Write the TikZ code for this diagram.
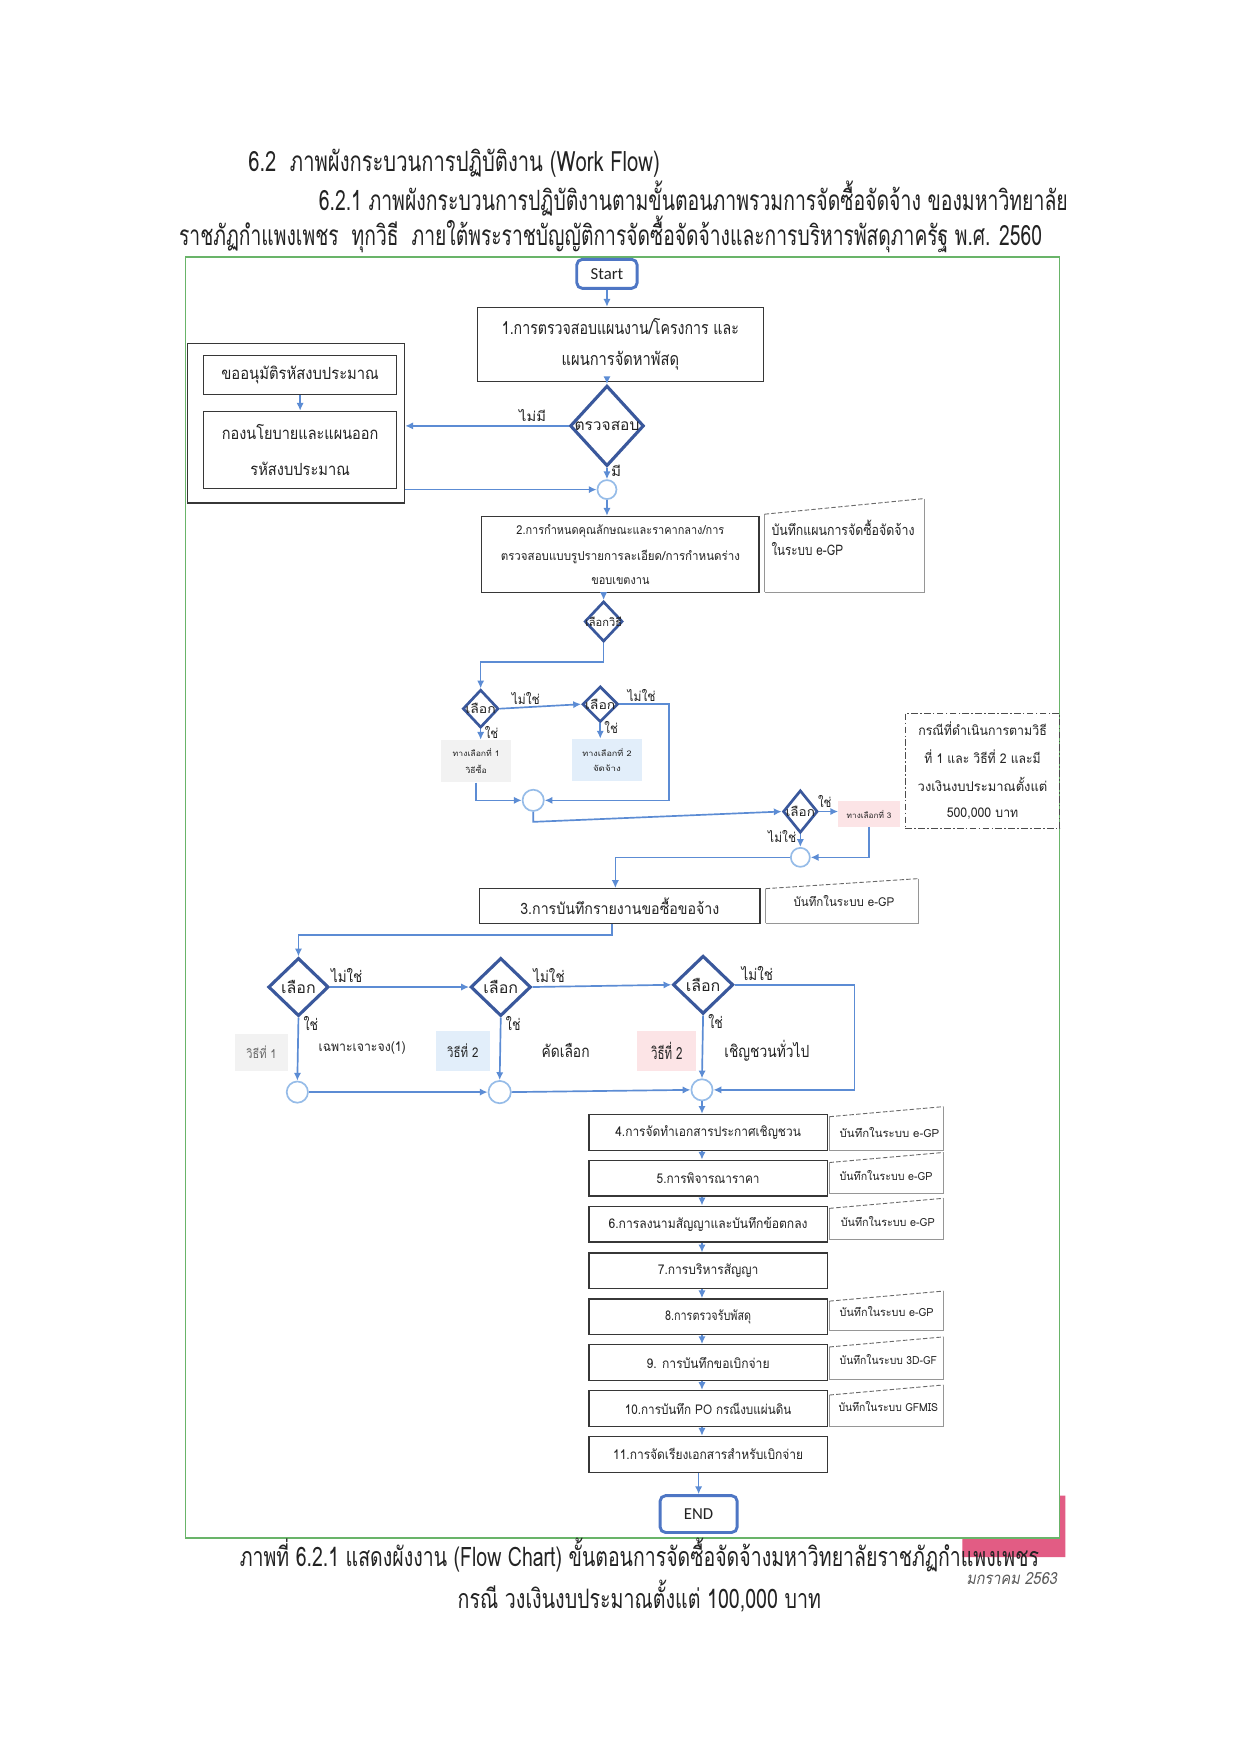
\documentclass[tikz,border=0pt]{standalone}
\usepackage{fontspec}
\usepackage{graphicx}
\setmainfont[Script=Thai]{Loma}
\newfontfamily\thslant[Script=Thai,FakeSlant=0.22]{Loma}
\newfontfamily\calib{Carlito}
\usetikzlibrary{arrows.meta,shapes.geometric,calc}
\newcommand\fitw[2]{\resizebox{#1pt}{\height}{#2}}
\newcommand\fs[1]{\fontsize{#1}{#1}\selectfont}
\definecolor{boxc}{RGB}{55,55,55}
\definecolor{termc}{RGB}{78,118,196}
\definecolor{diac}{RGB}{58,88,156}
\definecolor{circc}{RGB}{150,188,232}
\definecolor{arrc}{RGB}{92,140,212}
\definecolor{framec}{RGB}{105,180,105}
\definecolor{notec}{RGB}{150,150,150}
\definecolor{optgray}{RGB}{242,242,242}
\definecolor{optblue}{RGB}{226,238,250}
\definecolor{optpink}{RGB}{252,228,230}
\definecolor{pinkc}{RGB}{226,92,132}
\definecolor{txtc}{RGB}{35,35,35}
\newcommand\notefr[5]{%
  \draw[notel] (#1,#5) -- (#1,#2);
  \draw[notetop] (#1,#2) -- (#3,#4);
  \draw[notel] (#3,#4) -- (#3,#5) -- (#1,#5);}
\begin{document}
\begin{tikzpicture}[x=1pt,y=-1pt,
  box/.style={draw=boxc, line width=1.1pt, inner sep=0pt, align=center, fill=white, text=txtc},
  term/.style={draw=termc, line width=2.6pt, rounded corners=5pt, inner sep=0pt, fill=white, font=\calib\fs{15}, text=txtc},
  dia/.style={diamond, draw=diac, line width=2.8pt, inner sep=0pt, fill=white},
  sdia/.style={diamond, draw=diac, line width=2.4pt, inner sep=0pt, fill=white},
  circ/.style={circle, draw=circc, line width=1.5pt, inner sep=0pt, fill=white},
  arr/.style={draw=arrc, line width=1.5pt, -{Latex[length=7pt,width=6.5pt]}},
  lbl/.style={inner sep=0pt, font=\fs{12}, text=txtc},
  blbl/.style={inner sep=0pt, font=\fs{14}, text=txtc},
  optbox/.style={inner sep=0pt, align=center, font=\fs{7}, text=txtc},
  notel/.style={draw=notec, line width=0.8pt},
  notetop/.style={draw=notec!70!black, line width=0.8pt, dash pattern=on 4pt off 2pt},
  dashnote/.style={draw=black!70, line width=1pt, dash pattern=on 6pt off 2pt on 1.5pt off 2pt, inner sep=0pt, align=center},
  ttl/.style={inner sep=0pt, font=\fs{25}, text=txtc},
  ntxt/.style={inner sep=0pt, align=left, text=txtc}
]
\useasboundingbox (0,0) rectangle (1106,1562);
\fill[white] (0,0) rectangle (1106,1562);

% titles
\node[ttl, anchor=west] (t1) at (222,146) {\fitw{368}{6.2\ \ ภาพผังกระบวนการปฏิบัติงาน (Work Flow)}};
\node[ttl, anchor=west] (t2) at (285,178) {\fitw{670}{6.2.1 ภาพผังกระบวนการปฏิบัติงานตามขั้นตอนภาพรวมการจัดซื้อจัดจ้าง ของมหาวิทยาลัย}};
\node[ttl, anchor=west] (t3) at (160,210) {\fitw{772}{ราชภัฏกำแพงเพชร\ \ ทุกวิธี\ \ ภายใต้พระราชบัญญัติการจัดซื้อจัดจ้างและการบริหารพัสดุภาครัฐ พ.ศ. 2560}};

% pink mark and frame
\fill[pinkc] (861,1376) -- (948,1376) -- (948,1338) -- (953,1338) -- (953,1393) -- (861,1393) -- cycle;
\draw[framec, line width=1.2pt] (166,230) rectangle (948,1376);

% captions
\node[ttl, font=\fs{24}] (cap1) at (572,1391) {\fitw{715}{ภาพที่ 6.2.1 แสดงผังงาน (Flow Chart) ขั้นตอนการจัดซื้อจัดจ้างมหาวิทยาลัยราชภัฏกำแพงเพชร}};
\node[ttl, font=\fs{24}] (cap2) at (572,1428) {\fitw{325}{กรณี วงเงินงบประมาณตั้งแต่ 100,000 บาท}};
\node[inner sep=0pt, font=\thslant\fs{15}, text=black!65] (date) at (905,1412) {\fitw{81}{มกราคม 2563}};

% top part
\node[term, minimum width=54pt, minimum height=26pt] (start) at (543,245) {Start};
\node[box, minimum width=256pt, minimum height=66pt, font=\fs{16}] (b1) at (555,308)
  {\fitw{212}{1.การตรวจสอบแผนงาน/โครงการ และ}\\[12pt]\fitw{105}{แผนการจัดหาพัสดุ}};
\node[box, minimum width=194pt, minimum height=143pt] (lb) at (265,378.5) {};
\node[box, minimum width=173pt, minimum height=35pt, font=\fs{15}] (la) at (268.5,335.5) {\fitw{141}{ขออนุมัติรหัสงบประมาณ}};
\node[box, minimum width=173pt, minimum height=69pt, font=\fs{15}] (lbb) at (268.5,402.5)
  {\fitw{140}{กองนโยบายและแผนออก}\\[17pt]\fitw{89}{รหัสงบประมาณ}};
\node[dia, minimum width=66pt, minimum height=72pt, label={[lbl, font=\fs{14}]center:\fitw{58}{ตรวจสอบ}}] (d0) at (543,381) {};
\node[circ, minimum size=17pt] (c0) at (543,438) {};
\node[box, minimum width=248pt, minimum height=68pt, font=\fs{11}] (b2) at (555,496)
  {\fitw{186}{2.การกำหนดคุณลักษณะและราคากลาง/การ}\\[10pt]\fitw{214}{ตรวจสอบแบบรูปรายการละเอียด/การกำหนดร่าง}\\[10pt]\fitw{52}{ขอบเขตงาน}};
\notefr{684}{460}{827}{446}{530}
\node[ntxt, anchor=west, font=\fs{13}] (n0) at (690,481) {\fitw{128}{บันทึกแผนการจัดซื้อจัดจ้าง}\\[5pt]\fitw{64}{ในระบบ e-GP}};

% choice of method
\node[sdia, minimum width=34pt, minimum height=36pt, label={[lbl, font=\fs{10}]center:\fitw{33}{เลือกวิธี}}] (d1) at (540,556) {};
\node[sdia, minimum width=32pt, minimum height=34pt, label={[lbl, font=\fs{11}]center:\fitw{27}{เลือก}}] (d2) at (430,634) {};
\node[sdia, minimum width=32pt, minimum height=32pt, label={[lbl, font=\fs{11}]center:\fitw{27}{เลือก}}] (d3) at (537,630) {};
\node[optbox, fill=optgray, minimum width=63pt, minimum height=38pt] (opt1) at (426,681) {\fitw{42}{ทางเลือกที่ 1}\\[7pt]\fitw{19}{วิธีซื้อ}};
\node[optbox, fill=optblue, minimum width=62pt, minimum height=38pt] (opt2) at (543,680) {\fitw{44}{ทางเลือกที่ 2}\\[7pt]\fitw{25}{จัดจ้าง}};
\node[circ, minimum size=19pt] (c1) at (477,716) {};
\node[sdia, minimum width=31pt, minimum height=38pt, label={[lbl, font=\fs{11}]center:\fitw{26}{เลือก}}] (d4) at (716,726) {};
\node[optbox, fill=optpink, minimum width=55pt, minimum height=23pt] (opt3) at (777.5,728.5) {\fitw{40}{ทางเลือกที่ 3}};
\node[dashnote, minimum width=138pt, minimum height=103pt, font=\fs{12}, text=txtc] (n1) at (879,689.5)
  {\fitw{115}{กรณีที่ดำเนินการตามวิธี}\\[11.5pt]\fitw{104}{ที่ 1 และ วิธีที่ 2 และมี}\\[11.5pt]\fitw{116}{วงเงินงบประมาณตั้งแต่}\\[11.5pt]\fitw{64}{500,000 บาท}};
\node[circ, minimum size=17pt] (c2) at (716,767) {};

% step 3
\node[box, minimum width=251pt, minimum height=31pt, font=\fs{14}] (b3) at (554.5,810.5) {\fitw{178}{3.การบันทึกรายงานขอซื้อขอจ้าง}};
\notefr{685}{795}{822}{786}{826}
\node[ntxt, font=\fs{11}] (n2) at (755,806) {\fitw{90}{บันทึกในระบบ e-GP}};

% procurement methods
\node[dia, minimum width=54pt, minimum height=52pt, label={[blbl]center:\fitw{31}{เลือก}}] (d5) at (267,883) {};
\node[dia, minimum width=54pt, minimum height=52pt, label={[blbl]center:\fitw{31}{เลือก}}] (d6) at (448,883) {};
\node[dia, minimum width=54pt, minimum height=52pt, label={[blbl]center:\fitw{31}{เลือก}}] (d7) at (629,881) {};
\node[circ, minimum size=19pt] (c3) at (266,977) {};
\node[circ, minimum size=20pt] (c4) at (447,977) {};
\node[circ, minimum size=19pt] (c5) at (628,975) {};
\node[optbox, fill=optgray, minimum width=48pt, minimum height=33pt, font=\fs{11}, text=black!60] (v1) at (234,941.5) {\fitw{27}{วิธีที่ 1}};
\node[lbl] (m1) at (324,938) {\fitw{78}{เฉพาะเจาะจง(1)}};
\node[optbox, fill=optblue, minimum width=48pt, minimum height=36pt, font=\fs{12}] (v2) at (414,940) {\fitw{28}{วิธีที่ 2}};
\node[lbl, font=\fs{15}] (m2) at (506,940) {\fitw{43}{คัดเลือก}};
\node[optbox, fill=optpink, minimum width=53pt, minimum height=36pt, font=\fs{15}] (v3) at (596.5,940) {\fitw{28}{วิธีที่ 2}};
\node[lbl, font=\fs{15}] (m3) at (686,940) {\fitw{76}{เชิญชวนทั่วไป}};

% steps 4-11
\node[box, minimum width=213pt, minimum height=32pt, font=\fs{12}] (b4) at (633.5,1013) {\fitw{166}{4.การจัดทำเอกสารประกาศเชิญชวน}};
\node[box, minimum width=213pt, minimum height=32pt, font=\fs{12}] (b5) at (633.5,1054) {\fitw{92}{5.การพิจารณาราคา}};
\node[box, minimum width=213pt, minimum height=32pt, font=\fs{12}] (b6) at (633.5,1095) {\fitw{178}{6.การลงนามสัญญาและบันทึกข้อตกลง}};
\node[box, minimum width=213pt, minimum height=32pt, font=\fs{12}] (b7) at (633.5,1137) {\fitw{90}{7.การบริหารสัญญา}};
\node[box, minimum width=213pt, minimum height=32pt, font=\fs{12}] (b8) at (633.5,1178) {\fitw{77}{8.การตรวจรับพัสดุ}};
\node[box, minimum width=213pt, minimum height=32pt, font=\fs{12}] (b9) at (633.5,1219) {\fitw{110}{9. การบันทึกขอเบิกจ่าย}};
\node[box, minimum width=213pt, minimum height=32pt, font=\fs{12}] (b10) at (633.5,1260) {\fitw{149}{10.การบันทึก PO กรณีงบแผ่นดิน}};
\node[box, minimum width=213pt, minimum height=32pt, font=\fs{12}] (b11) at (633.5,1301) {\fitw{170}{11.การจัดเรียงเอกสารสำหรับเบิกจ่าย}};
\node[term, minimum width=69pt, minimum height=33pt] (end) at (625,1354.5) {END};

\notefr{742}{999}{844}{990}{1029}
\node[ntxt, anchor=west, font=\fs{10}] (n4) at (751,1013) {\fitw{89}{บันทึกในระบบ e-GP}};
\notefr{742}{1040}{844}{1031}{1068}
\node[ntxt, anchor=west, font=\fs{10}] (n5) at (751,1052) {\fitw{83}{บันทึกในระบบ e-GP}};
\notefr{742}{1081}{844}{1072}{1109}
\node[ntxt, anchor=west, font=\fs{10}] (n6) at (752,1093) {\fitw{84}{บันทึกในระบบ e-GP}};
\notefr{742}{1164}{844}{1155}{1190}
\node[ntxt, anchor=west, font=\fs{10}] (n8) at (751,1173) {\fitw{84}{บันทึกในระบบ e-GP}};
\notefr{742}{1205}{844}{1196}{1234}
\node[ntxt, anchor=west, font=\fs{10}] (n9) at (751,1216) {\fitw{87}{บันทึกในระบบ 3D-GF}};
\notefr{742}{1248}{844}{1239}{1276}
\node[ntxt, anchor=west, font=\fs{10}] (n10) at (750,1258) {\fitw{89}{บันทึกในระบบ GFMIS}};

% connectors
\draw[arr] (start.south) -- (start.south |- b1.north);
\draw[arr] (b1.south -| d0) -- (d0.north);
\draw[arr] (d0.west) -- node[lbl, above=3pt, pos=0.22] (lnm) {\fitw{24}{ไม่มี}} (d0.west -| lb.east);
\draw[arr] (d0.south) -- node[lbl, right=3pt, pos=0.25] (lm) {\fitw{9}{มี}} (c0.north);
\draw[arr] (la.south) -- (lbb.north);
\draw[arr] (c0 -| lb.east) -- (c0.west);
\draw[arr] (c0.south) -- (c0.south |- b2.north);
\draw[arr] (b2.south -| d1) -- (d1.north);
\draw[arr] (d1.south) -- ++(0,17) -| (d2.north);
\draw[arr] (d2.east) -- node[lbl, above=2pt, pos=0.32] (l1) {\fitw{25}{ไม่ใช่}} (d3.west);
\draw[arr] (d3.east) -- node[lbl, above=2pt, pos=0.45] (l2) {\fitw{25}{ไม่ใช่}} ++(44,0) |- (c1.east);
\draw[arr] (d2.south) -- node[lbl, right=3pt, pos=0.3] (l3) {\fitw{12}{ใช่}} (d2.south |- opt1.north);
\draw[arr] (d3.south) -- node[lbl, right=3pt, pos=0.3] (l4) {\fitw{12}{ใช่}} (d3.south |- opt2.north);
\draw[arr] (opt1.south) |- (c1.west);
\draw[arr] (c1.south) -- ++(0,9) -- (d4.west);
\draw[arr] (d4.east) -- node[lbl, above=3pt, pos=0.3] (l5) {\fitw{12}{ใช่}} (d4.east -| opt3.west);
\draw[arr] (d4.south) -- node[lbl, left=3pt, pos=0.2] (l6) {\fitw{25}{ไม่ใช่}} (c2.north);
\draw[arr] (opt3.south) |- (c2.east);
\draw[arr] (c2.west) -| ([xshift=-4pt]b3.north);
\draw[arr] ([xshift=-7pt]b3.south) -- ++(0,10) -| (d5.north);
\draw[arr] (d5.east) -- node[blbl, pos=0, anchor=south west, yshift=3pt] (l7) {\fitw{28}{ไม่ใช่}} (d6.west);
\draw[arr] (d6.east) -- node[blbl, pos=0, anchor=south west, yshift=3pt] (l8) {\fitw{28}{ไม่ใช่}} (d7.west);
\draw[arr] (d7.east) -- node[blbl, pos=0.05, anchor=south west, yshift=3pt] (l9) {\fitw{28}{ไม่ใช่}} ++(107,0) |- (c5.east);
\draw[arr] (d5.south) -- node[blbl, pos=0.1, anchor=west, xshift=4pt] (l10) {\fitw{13}{ใช่}} (c3.north);
\draw[arr] (d6.south) -- node[blbl, pos=0.1, anchor=west, xshift=4pt] (l11) {\fitw{13}{ใช่}} (c4.north);
\draw[arr] (d7.south) -- node[blbl, pos=0.1, anchor=west, xshift=4pt] (l12) {\fitw{13}{ใช่}} (c5.north);
\draw[arr] (c3.east) -- (c4.west);
\draw[arr] (c4.east) -- (c5.west);
\draw[arr] (c5.south) -- (c5.south |- b4.north);
\foreach \a/\b in {b4/b5,b5/b6,b6/b7,b7/b8,b8/b9,b9/b10,b10/b11}
  \draw[arr] (\a.south -| c5) -- (\b.north -| c5);
\draw[arr] (b11.south -| end) -- (end.north);
\end{tikzpicture}
\end{document}
